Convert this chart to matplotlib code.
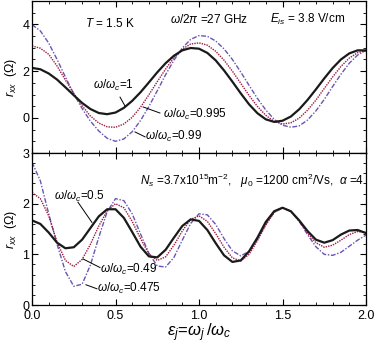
import numpy as np
import matplotlib
matplotlib.use("Agg")
import matplotlib.pyplot as plt
from matplotlib.ticker import MultipleLocator

plt.rcParams["font.family"] = ["Liberation Sans", "DejaVu Sans"]
plt.rcParams["mathtext.fontset"] = "custom"
plt.rcParams["mathtext.rm"] = "Liberation Sans"
plt.rcParams["mathtext.it"] = "Liberation Sans:italic"
plt.rcParams["font.size"] = 9

# energy axis (eps_j = omega_j / omega_c), read every 0.05
eps = np.round(np.arange(0, 2.0001, 0.05), 2)

# top panel: omega/omega_c = 1, 0.995, 0.99
top_w1 = [2.14, 2.08, 1.90, 1.64, 1.31, 0.97, 0.64, 0.38, 0.21, 0.16,
          0.23, 0.43, 0.73, 1.10, 1.52, 1.95, 2.34, 2.66, 2.89, 2.99,
          2.96, 2.78, 2.46, 2.03, 1.55, 1.05, 0.58, 0.20, -0.06, -0.17,
          -0.12, 0.06, 0.37, 0.77, 1.22, 1.69, 2.13, 2.50, 2.76, 2.89, 2.89]
top_w0995 = [3.08, 2.98, 2.72, 2.22, 1.62, 1.05, 0.52, 0.08, -0.22, -0.38,
             -0.40, -0.26, 0.03, 0.46, 0.99, 1.55, 2.09, 2.58, 2.94, 3.16,
             3.21, 3.11, 2.85, 2.47, 2.00, 1.48, 0.96, 0.49, 0.11, -0.15,
             -0.26, -0.21, -0.01, 0.33, 0.76, 1.26, 1.75, 2.20, 2.56, 2.79, 2.87]
top_w099 = [3.99, 3.72, 3.20, 2.50, 1.75, 1.03, 0.40, -0.14, -0.56, -0.87,
            -1.00, -0.90, -0.59, -0.11, 0.49, 1.16, 1.85, 2.47, 2.99, 3.36,
            3.52, 3.49, 3.29, 2.95, 2.50, 1.96, 1.39, 0.83, 0.34, -0.06,
            -0.31, -0.40, -0.34, -0.09, 0.30, 0.79, 1.34, 1.87, 2.34, 2.69, 2.89]

# bottom panel: omega/omega_c = 0.5, 0.49, 0.475
bot_w05 = [1.67, 1.60, 1.43, 1.23, 1.12, 1.14, 1.29, 1.52, 1.75, 1.89,
           1.89, 1.72, 1.44, 1.15, 0.96, 0.94, 1.09, 1.33, 1.56, 1.69,
           1.66, 1.48, 1.22, 0.98, 0.85, 0.88, 1.06, 1.33, 1.64, 1.85,
           1.92, 1.85, 1.67, 1.46, 1.29, 1.23, 1.28, 1.39, 1.47, 1.48, 1.42]
bot_w049 = [2.22, 2.10, 1.76, 1.24, 0.88, 0.76, 0.90, 1.20, 1.56, 1.86,
            2.00, 1.92, 1.65, 1.31, 1.01, 0.88, 0.95, 1.18, 1.46, 1.69,
            1.76, 1.65, 1.41, 1.14, 0.93, 0.87, 1.00, 1.27, 1.58, 1.83,
            1.92, 1.85, 1.66, 1.42, 1.23, 1.14, 1.18, 1.28, 1.39, 1.45, 1.43]
bot_w0475 = [2.82, 2.45, 1.80, 1.20, 0.66, 0.37, 0.41, 0.79, 1.34, 1.84,
             2.10, 2.06, 1.80, 1.40, 1.02, 0.77, 0.75, 0.94, 1.28, 1.61,
             1.80, 1.78, 1.59, 1.31, 1.07, 0.97, 1.06, 1.30, 1.59, 1.83,
             1.92, 1.85, 1.65, 1.39, 1.15, 1.00, 0.98, 1.04, 1.16, 1.28, 1.38]

black = "#1a1a1a"
red = "#9b1b3c"
purple = "#6a55b5"
dashdot = (0, (3.5, 1.2, 1, 1.2))
dotted = (0, (1, 0.8))

fig = plt.figure(figsize=(3.74, 3.45), dpi=100)
ax1 = fig.add_axes([0.0856, 0.5565, 0.893, 0.4406])
ax2 = fig.add_axes([0.0856, 0.1159, 0.893, 0.4406])

ax1.plot(eps, top_w099, color=purple, lw=1.0, ls=dashdot)
ax1.plot(eps, top_w0995, color=red, lw=1.0, ls=dotted)
ax1.plot(eps, top_w1, color=black, lw=1.6)

ax2.plot(eps, bot_w0475, color=purple, lw=1.0, ls=dashdot)
ax2.plot(eps, bot_w049, color=red, lw=1.0, ls=dotted)
ax2.plot(eps, bot_w05, color=black, lw=1.6)

ax1.set_xlim(0, 2)
ax2.set_xlim(0, 2)
ax1.set_ylim(-1.5, 5.0)
ax2.set_ylim(0, 3)

for ax in (ax1, ax2):
    ax.xaxis.set_major_locator(MultipleLocator(0.5))
    ax.xaxis.set_minor_locator(MultipleLocator(0.1))
    ax.tick_params(which="both", direction="in", top=True, right=True,
                   labelsize=9, pad=2)
    ax.tick_params(which="major", length=4, width=0.8)
    ax.tick_params(which="minor", length=2, width=0.6)
    for s in ax.spines.values():
        s.set_linewidth(0.9)

ax1.yaxis.set_major_locator(MultipleLocator(2))
ax1.yaxis.set_minor_locator(MultipleLocator(0.5))
ax1.tick_params(labelbottom=False)
ax2.yaxis.set_major_locator(MultipleLocator(1))
ax2.yaxis.set_minor_locator(MultipleLocator(0.2))
ax2.set_xticks([0, 0.5, 1.0, 1.5, 2.0])
ax2.set_xticklabels(["0.0", "0.5", "1.0", "1.5", "2.0"])
ax2.tick_params(axis="x", pad=3.5)

ax1.set_ylabel(r"$r_{xx}$  ($\Omega$)", labelpad=2)
ax2.set_ylabel(r"$r_{xx}$  ($\Omega$)", labelpad=2)
ax2.set_xlabel(r"$\varepsilon_j\!=\!\omega_j\,/\omega_c$", fontsize=12, labelpad=0)

fs = 8.5
ax1.text(0.317, 4.05, r"$T$ = 1.5 K", fontsize=fs, va="center")
ax1.text(0.826, 4.21, r"$\omega/2\pi$ =27 GHz", fontsize=fs, va="center")
ax1.text(1.425, 4.21, r"$E_{is}$ = 3.8 V/cm", fontsize=fs, va="center")
ax1.text(0.365, 1.40, r"$\omega/\omega_c$=1", fontsize=fs, va="center")
ax1.text(0.784, 0.13, r"$\omega/\omega_c$=0.995", fontsize=fs, va="center")
ax1.text(0.677, -0.81, r"$\omega/\omega_c$=0.99", fontsize=fs, va="center")
ax1.plot([0.527, 0.557], [0.89, 0.51], color="k", lw=0.7)
ax1.plot([0.665, 0.766], [0.47, 0.21], color="k", lw=0.7)
ax1.plot([0.617, 0.677], [-0.60, -0.81], color="k", lw=0.7)

ax2.text(0.647, 2.45,
         r"$N_s$ =3.7x10$^{15}$m$^{-2}$,   $\mu_0$ =1200 cm$^2$/Vs,  $\alpha$ =4",
         fontsize=fs, va="center")
ax2.text(0.132, 2.15, r"$\omega/\omega_c$=0.5", fontsize=fs, va="center")
ax2.text(0.407, 0.70, r"$\omega/\omega_c$=0.49", fontsize=fs, va="center")
ax2.text(0.389, 0.32, r"$\omega/\omega_c$=0.475", fontsize=fs, va="center")
ax2.plot([0.275, 0.359], [2.03, 1.63], color="k", lw=0.7)
ax2.plot([0.305, 0.407], [0.91, 0.74], color="k", lw=0.7)
ax2.plot([0.323, 0.389], [0.40, 0.32], color="k", lw=0.7)

fig.savefig("out.png", dpi=100)
